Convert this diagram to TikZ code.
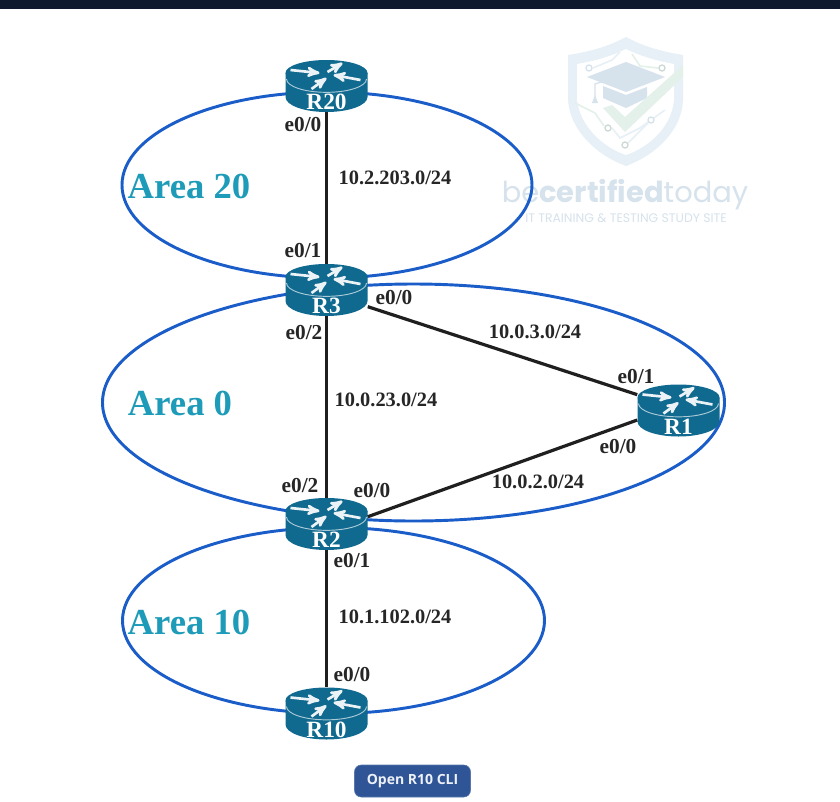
\documentclass[tikz,border=0pt]{standalone}
\usepackage{fontspec}
\setmainfont{Liberation Serif}
\newfontfamily\uifont{Open Sans}
\newfontfamily\markfont{Poppins}
\usetikzlibrary{arrows,backgrounds}

\definecolor{barcol}{HTML}{0F1A2E}
\definecolor{areacol}{HTML}{1D9BB8}
\definecolor{ringcol}{HTML}{1A5CC8}
\definecolor{routercol}{HTML}{10698F}
\definecolor{btncol}{HTML}{2F5597}
\definecolor{markcol}{HTML}{D6E2EC}
\definecolor{marklight}{HTML}{E6F0F6}
\definecolor{markgreen}{HTML}{E4F1EA}

% router icon: name, x, y
\newcommand{\router}[3]{
  \node[router node] (#1) at (#2,#3) {};
  \begin{scope}[shift={(#2,#3)}]
    \fill[routercol] (-41,-13) -- (-41,11) arc[start angle=180,end angle=360,x radius=30.75pt,y radius=11.25pt] -- (41,-13) -- cycle;
    \fill[routercol] (0,-13) ellipse (41 and 13);
    \draw[white!65!routercol,line width=.7pt] (-40,-7) arc[start angle=180,end angle=360,x radius=30pt,y radius=10pt];
    \draw[router arrow] (-36,-16) -- (-7,-13);
    \draw[router arrow] (1,-14) -- (16,-23);
    \draw[router arrow] (34,-6) -- (7,-11);
    \draw[router arrow] (-15,3) -- (0,-8);
  \end{scope}
  \node[router text] (#1text) at (#2,#3+16) {#1};
}

\begin{document}
\begin{tikzpicture}[x=0.75pt,y=-0.75pt,
    router node/.style={rectangle,minimum width=61.5pt,minimum height=39pt,inner sep=0pt},
    router text/.style={font=\fontsize{17.5}{19}\selectfont\bfseries,text=white,inner sep=0pt},
    router arrow/.style={-stealth',white!92!routercol,line width=2pt},
    link/.style={black!88,line width=2.4pt},
    ring/.style={ringcol,line width=2.2pt},
    port/.style={font=\fontsize{16}{18}\selectfont\bfseries,text=black!85,inner sep=0pt},
    subnet/.style={font=\fontsize{15.3}{18}\selectfont\bfseries,text=black!85,inner sep=0pt},
    area/.style={font=\fontsize{27.5}{30}\selectfont\bfseries,text=areacol,inner sep=0pt}]

  \useasboundingbox (0,0) rectangle (840,801);

  \router{R20}{326.5}{86}
  \router{R3}{326.5}{290}
  \router{R1}{678.5}{410.5}
  \router{R2}{326.5}{524}
  \router{R10}{326.5}{713.5}

  % links
  \path[link]
    (R20) edge (R3)
    (R3) edge (R2)
    (R3.-22) edge (R1.159)
    (R2.10) edge (R1.193)
    (R2) edge (R10);

  % port names
  \node[port] (p1) at (303,125) {e0/0};
  \node[port] (p2) at (303,251) {e0/1};
  \node[port] (p3) at (394,298) {e0/0};
  \node[port] (p4) at (304,333) {e0/2};
  \node[port] (p5) at (636,377) {e0/1};
  \node[port] (p6) at (618,447) {e0/0};
  \node[port] (p7) at (300,486) {e0/2};
  \node[port] (p8) at (372,491) {e0/0};
  \node[port] (p9) at (352,561) {e0/1};
  \node[port] (p10) at (352,675) {e0/0};

  % subnets
  \node[subnet] (n1) at (395,178) {10.2.203.0/24};
  \node[subnet] (n2) at (535,332) {10.0.3.0/24};
  \node[subnet] (n3) at (386,400) {10.0.23.0/24};
  \node[subnet] (n4) at (538,482) {10.0.2.0/24};
  \node[subnet] (n5) at (395,617) {10.1.102.0/24};

  % areas
  \node[area] (a20) at (189,186) {Area 20};
  \node[area] (a0) at (180,403) {Area 0};
  \node[area] (a10) at (189,622) {Area 10};

  % button
  \node[fill=btncol,draw=btncol!80!white,rounded corners=5pt,minimum width=87pt,minimum height=24pt,
        inner sep=0pt,text=white!92!btncol,font=\uifont\fontsize{10.5}{12}\selectfont\bfseries]
        (cli) at (412.5,781) {Open R10 CLI};

  \begin{pgfonlayer}{background}
    \fill[white] (0,0) rectangle (840,801);
    \fill[barcol] (0,0) rectangle (840,9);
    % watermark
    \fill[marklight] (626,37) .. controls (608,47) and (588,52) .. (568,55) -- (568,100)
       .. controls (570,130) and (596,155) .. (626,166)
       .. controls (656,155) and (682,130) .. (683,100) -- (683,55)
       .. controls (664,52) and (644,47) .. (626,37) -- cycle;
    \fill[white] (626,49) .. controls (610,57) and (594,61) .. (577,64) -- (577,100)
       .. controls (580,124) and (600,146) .. (626,155)
       .. controls (652,146) and (672,124) .. (674,100) -- (674,64)
       .. controls (658,61) and (642,57) .. (626,49) -- cycle;
    \fill[markcol] (587,77) -- (626,62) -- (665,77) -- (626,92) -- cycle;
    \fill[markcol] (603,86) -- (626,95) -- (647,87) -- (647,98) -- (626,108) -- (603,98) -- cycle;
    \draw[markcol,line width=1pt] (626,74) -- (595,84) -- (595,97);
    \fill[markcol] (592,103) -- (595,95) -- (598,103) -- cycle;
    \fill[markgreen] (603,108) -- (625,132) -- (683,77) -- (683,65) -- (625,117) -- (612,105) -- cycle;
    \draw[marklight,line width=1.2pt] (593,68) -- (612,60) -- (620,52);
    \draw[markgreen,line width=1.2pt] (658,68) -- (640,66) -- (632,54);
    \draw[markgreen,line width=1.2pt] (575,103) -- (595,113) -- (604,126);
    \draw[marklight,line width=1.2pt] (612,128) -- (620,138) -- (640,128) -- (651,120) -- (665,110);
    \draw[marklight,line width=1.2pt] (628,143) -- (648,123);
    \foreach \cx/\cy in {589/68,651/120} \draw[markcol,line width=1pt,fill=white] (\cx,\cy) circle (3);
    \foreach \cx/\cy in {662/68,608/128,625/145} \draw[markgreen!90!black,line width=1pt,fill=white] (\cx,\cy) circle (3);
    \node[text=markcol,font=\markfont\fontsize{21.7}{24}\selectfont,inner sep=0pt] (logo) at (625,195)
      {be{\bfseries certified}today};
    \node[text=markcol,font=\markfont\fontsize{9.3}{11}\selectfont,inner sep=0pt] (slogan) at (626,218)
      {IT TRAINING \& TESTING STUDY SITE};

    % area rings
    \draw[ring] (327,185) ellipse (205 and 93);
    \draw[ring] (413.5,402.5) ellipse (311 and 118.5);
    \draw[ring] (333.5,620.5) ellipse (211 and 93);
  \end{pgfonlayer}
\end{tikzpicture}
\end{document}
